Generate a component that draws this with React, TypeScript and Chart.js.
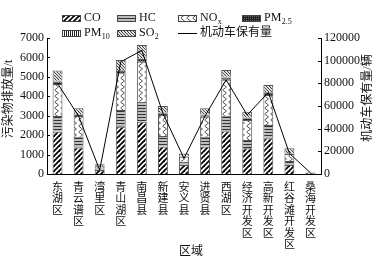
import React, { useEffect, useRef } from 'react';
import { Chart, registerables } from 'chart.js';
Chart.register(...registerables);

const districts = ['东湖区', '青云谱区', '湾里区', '青山湖区', '南昌县', '新建县', '安义县', '进贤县', '西湖区', '经济开发区', '高新开发区', '红谷滩开发区', '桑海开发区'];
const coValues = [2180, 1370, 200, 2430, 2690, 1400, 460, 1400, 2200, 1320, 1840, 460, 50];
const hcValues = [800, 550, 80, 860, 1030, 550, 170, 520, 800, 430, 680, 210, 20];
const noxValues = [1650, 1065, 120, 1890, 2060, 1090, 260, 1030, 1850, 1030, 1550, 360, 25];
const pm25Values = [130, 80, 20, 130, 140, 90, 30, 80, 120, 90, 110, 30, 10];
const pm10Values = [40, 25, 10, 40, 40, 30, 10, 30, 40, 30, 40, 10, 5];
const so2Values = [530, 290, 70, 520, 680, 340, 130, 320, 340, 310, 360, 250, 10];
const vehicleValues = [80000, 51000, 3500, 99000, 109000, 53500, 13800, 51200, 83000, 52000, 72000, 18200, 1000];

const FONT = '"Liberation Serif", "Noto Sans CJK SC", serif';

function makePattern(w: number, h: number, draw: (ctx: CanvasRenderingContext2D) => void): CanvasPattern {
  const c = document.createElement('canvas');
  c.width = w;
  c.height = h;
  const ctx = c.getContext('2d')!;
  draw(ctx);
  return ctx.createPattern(c, 'repeat')!;
}

function buildPatterns() {
  const co = makePattern(5, 5, (ctx) => {
    ctx.fillStyle = '#fff';
    ctx.fillRect(0, 0, 5, 5);
    ctx.strokeStyle = '#000';
    ctx.lineWidth = 1.8;
    for (const o of [-5, 0, 5]) {
      ctx.beginPath();
      ctx.moveTo(o - 1, 6);
      ctx.lineTo(o + 6, -1);
      ctx.stroke();
    }
  });
  const hc = makePattern(4, 3, (ctx) => {
    ctx.fillStyle = '#bdbdbd';
    ctx.fillRect(0, 0, 4, 3);
    ctx.fillStyle = '#333';
    ctx.fillRect(0, 0, 4, 1);
  });
  const nox = makePattern(6, 6, (ctx) => {
    ctx.fillStyle = '#fff';
    ctx.fillRect(0, 0, 6, 6);
    ctx.strokeStyle = '#555';
    ctx.lineWidth = 1;
    ctx.beginPath();
    ctx.moveTo(0.5, 0);
    ctx.lineTo(4.5, 3);
    ctx.lineTo(0.5, 6);
    ctx.stroke();
  });
  const pm25 = makePattern(2, 2, (ctx) => {
    ctx.fillStyle = '#222';
    ctx.fillRect(0, 0, 2, 2);
    ctx.fillStyle = '#666';
    ctx.fillRect(0, 0, 1, 1);
  });
  const pm10 = makePattern(2, 2, (ctx) => {
    ctx.fillStyle = '#fff';
    ctx.fillRect(0, 0, 2, 2);
    ctx.fillStyle = '#222';
    ctx.fillRect(0, 0, 1, 2);
  });
  const so2 = makePattern(3, 3, (ctx) => {
    ctx.fillStyle = '#e0e0e0';
    ctx.fillRect(0, 0, 3, 3);
    ctx.fillStyle = '#444';
    ctx.fillRect(0, 0, 1, 1);
    ctx.fillRect(1, 1, 1, 1);
    ctx.fillRect(2, 2, 1, 1);
  });
  return { co, hc, nox, pm25, pm10, so2 };
}

type LegendEntry = { main: string; sub?: string; fill?: CanvasPattern; line?: boolean; x: number; y: number };

function drawLabel(ctx: CanvasRenderingContext2D, main: string, sub: string | undefined, x: number, y: number) {
  ctx.textAlign = 'left';
  ctx.textBaseline = 'middle';
  ctx.font = `12px ${FONT}`;
  ctx.fillText(main, x, y);
  if (sub) {
    const w = ctx.measureText(main).width;
    ctx.font = `8px ${FONT}`;
    ctx.fillText(sub, x + w + 0.5, y + 4);
  }
}

function drawVertical(ctx: CanvasRenderingContext2D, text: string, x: number, y: number) {
  ctx.save();
  ctx.translate(x, y);
  ctx.rotate(-Math.PI / 2);
  ctx.textAlign = 'center';
  ctx.textBaseline = 'middle';
  ctx.fillStyle = '#111';
  ctx.font = `12px ${FONT}`;
  ctx.fillText(text, 0, 0);
  ctx.restore();
}

export default function App() {
  const ref = useRef<HTMLCanvasElement | null>(null);

  useEffect(() => {
    if (!ref.current) return;
    const p = buildPatterns();
    const legendItems: LegendEntry[] = [
      { main: 'CO', fill: p.co, x: 62, y: 18 },
      { main: 'HC', fill: p.hc, x: 117, y: 18 },
      { main: 'NO', sub: 'x', fill: p.nox, x: 178, y: 18 },
      { main: 'PM', sub: '2.5', fill: p.pm25, x: 242, y: 18 },
      { main: 'PM', sub: '10', fill: p.pm10, x: 62, y: 33 },
      { main: 'SO', sub: '2', fill: p.so2, x: 117, y: 33 },
      { main: '机动车保有量', line: true, x: 178, y: 33 },
    ];

    const decor = {
      id: 'decor',
      afterDraw(chart: any) {
        const ctx: CanvasRenderingContext2D = chart.ctx;
        const ys = chart.scales.y;
        const y1 = chart.scales.y1;
        ctx.save();
        ctx.strokeStyle = '#000';
        ctx.lineWidth = 1;
        ys.ticks.forEach((_t: any, i: number) => {
          const py = Math.round(ys.getPixelForTick(i)) + 0.5;
          ctx.beginPath();
          ctx.moveTo(ys.right, py);
          ctx.lineTo(ys.right + 3, py);
          ctx.stroke();
        });
        y1.ticks.forEach((_t: any, i: number) => {
          const py = Math.round(y1.getPixelForTick(i)) + 0.5;
          ctx.beginPath();
          ctx.moveTo(y1.left, py);
          ctx.lineTo(y1.left - 3, py);
          ctx.stroke();
        });
        drawVertical(ctx, '污染物排放量/t', 9, 99);
        drawVertical(ctx, '机动车保有量/辆', 368, 98);
        ctx.fillStyle = '#111';
        ctx.font = `12px ${FONT}`;
        ctx.textAlign = 'center';
        ctx.textBaseline = 'middle';
        ctx.fillText('区域', 191, 252);
        for (const it of legendItems) {
          if (it.line) {
            ctx.strokeStyle = '#000';
            ctx.lineWidth = 1;
            ctx.beginPath();
            ctx.moveTo(it.x, it.y + 0.5);
            ctx.lineTo(it.x + 19, it.y + 0.5);
            ctx.stroke();
          } else if (it.fill) {
            ctx.fillStyle = it.fill;
            ctx.fillRect(it.x, it.y - 3, 19, 7);
            ctx.strokeStyle = '#444';
            ctx.lineWidth = 1;
            ctx.strokeRect(it.x + 0.5, it.y - 2.5, 18, 6);
          }
          ctx.fillStyle = '#111';
          drawLabel(ctx, it.main, it.sub, it.x + 22, it.y);
        }
        ctx.restore();
      },
    };

    const barCommon = {
      type: 'bar' as const,
      yAxisID: 'y',
      borderColor: '#555',
      borderWidth: 1,
      barPercentage: 0.47,
      categoryPercentage: 1,
      order: 1,
    };

    const plain = (v: any) => String(v);

    const chart = new Chart(ref.current, {
      type: 'bar',
      data: {
        labels: districts.map((d) => d.split('')),
        datasets: [
          { ...barCommon, label: 'CO', data: coValues, backgroundColor: p.co },
          { ...barCommon, label: 'HC', data: hcValues, backgroundColor: p.hc },
          { ...barCommon, label: 'NOx', data: noxValues, backgroundColor: p.nox },
          { ...barCommon, label: 'PM2.5', data: pm25Values, backgroundColor: p.pm25 },
          { ...barCommon, label: 'PM10', data: pm10Values, backgroundColor: p.pm10 },
          { ...barCommon, label: 'SO2', data: so2Values, backgroundColor: p.so2 },
          {
            type: 'line',
            label: '机动车保有量',
            data: vehicleValues,
            yAxisID: 'y1',
            borderColor: '#000',
            borderWidth: 1,
            pointRadius: 0,
            fill: false,
            tension: 0,
            order: 0,
          } as any,
        ],
      },
      options: {
        animation: false,
        responsive: false,
        layout: { padding: { top: 38, left: 0, right: 0, bottom: 0 } },
        plugins: { legend: { display: false }, tooltip: { enabled: false } },
        scales: {
          x: {
            stacked: true,
            grid: { display: false, drawTicks: false },
            border: { display: true, color: '#000', width: 1 },
            ticks: {
              color: '#111',
              font: { family: FONT, size: 11, lineHeight: 1.05 },
              padding: 8,
              autoSkip: false,
              minRotation: 0,
              maxRotation: 0,
            },
            afterFit: (s: any) => {
              s.height = 91;
            },
          },
          y: {
            stacked: true,
            position: 'left',
            min: 0,
            max: 7000,
            grid: { display: false, drawTicks: false },
            border: { display: true, color: '#000', width: 1 },
            ticks: { stepSize: 1000, color: '#111', font: { family: FONT, size: 12 }, padding: 3, callback: plain },
            afterFit: (s: any) => {
              s.width = 47;
            },
          },
          y1: {
            position: 'right',
            min: 0,
            max: 120000,
            grid: { display: false, drawTicks: false },
            border: { display: true, color: '#000', width: 1 },
            ticks: { stepSize: 20000, color: '#111', font: { family: FONT, size: 12 }, padding: 3, callback: plain },
            afterFit: (s: any) => {
              s.width = 57;
            },
          },
        },
      } as any,
      plugins: [decor],
    });
    return () => chart.destroy();
  }, []);

  return (
    <div style={{ position: 'absolute', left: 0, top: 0, width: 378, height: 265, background: '#fff' }}>
      <canvas ref={ref} width={378} height={265} />
    </div>
  );
}
